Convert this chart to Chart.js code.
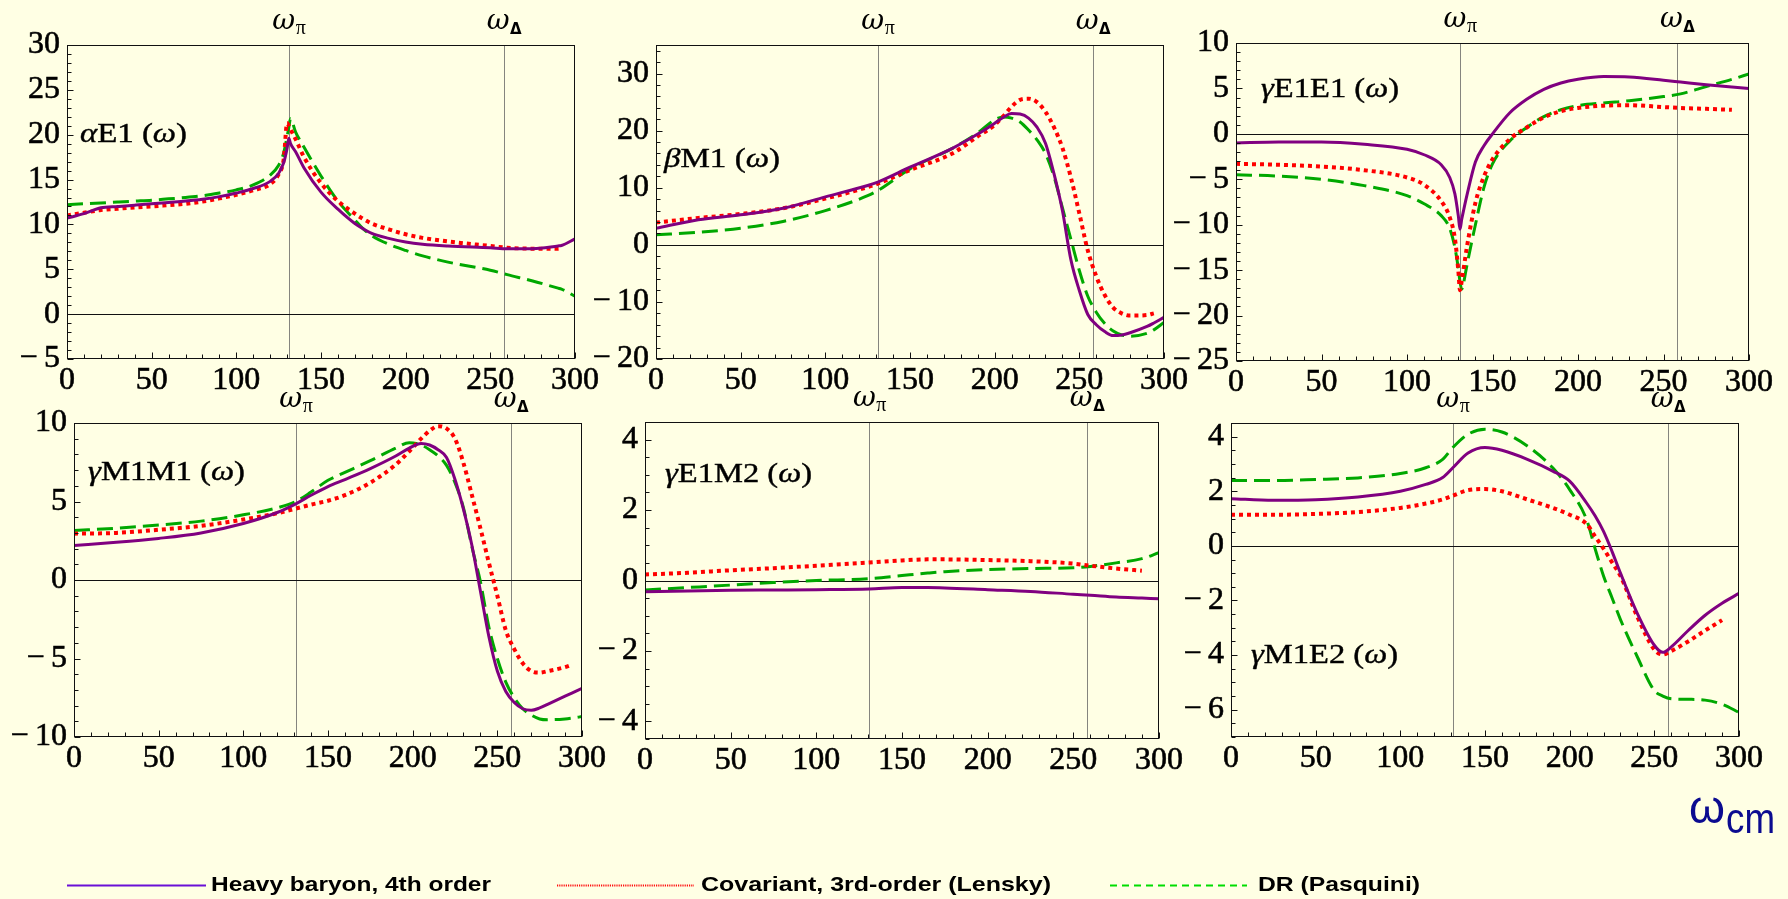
<!DOCTYPE html>
<html>
<head>
<meta charset="utf-8">
<script src="https://cdn.jsdelivr.net/npm/chart.js@4.4.1/dist/chart.umd.min.js"></script>
<style>
  html, body { margin: 0; padding: 0; background: #FFFFE4; }
  body { width: 1788px; height: 899px; position: relative; overflow: hidden; }
  canvas.panel { position: absolute; }
  svg.overlay { position: absolute; left: 0; top: 0; }
</style>
</head>
<body>
<svg class="overlay" width="1788" height="899" id="overlay"></svg>
<script>
// ---- shared axis values ----
const X_TICKS = [0, 50, 100, 150, 200, 250, 300];
const X_MARKS = [131, 258];           // pion-production threshold and Delta position
const X_MARK_SUBS = ['\u03C0', '\u0394'];
const SERIES_NAMES = ['Heavy baryon, 4th order', 'Covariant, 3rd-order (Lensky)', 'DR (Pasquini)'];

// ---- alpha_E1 ----
const wAlpha   = [0,10,20,30,40,50,60,70,80,90,100,110,120,125,128,130,131,132,135,140,150,160,170,175,180,190,200,210,225,250,260,275,290,292,300];
const alphaHB  = [10.7,11.2,11.85,12.0,12.15,12.3,12.45,12.6,12.8,13.1,13.5,14.0,14.8,15.7,16.9,18.5,19.6,19.0,18.1,16.3,13.6,11.7,10.1,9.5,9.0,8.45,8.05,7.8,7.6,7.4,7.3,7.3,7.6,7.65,8.4];
const alphaCov = [11.0,11.3,11.6,11.75,11.9,12.0,12.15,12.3,12.55,12.9,13.3,13.8,14.5,15.6,17.3,21.3,21.0,20.6,19.5,17.5,14.6,12.6,11.2,10.6,10.1,9.45,8.9,8.5,8.1,7.6,7.4,7.3,7.3,7.35,null];
const alphaDR  = [12.2,12.3,12.4,12.5,12.6,12.7,12.85,13.0,13.2,13.5,13.85,14.4,15.5,16.6,18.0,19.8,20.8,21.8,20.3,18.6,15.4,12.6,10.5,9.5,8.75,7.8,7.1,6.5,5.8,4.9,4.4,3.7,2.9,2.8,2.0];
const yTicksAlpha = [-5,0,5,10,15,20,25,30];

// ---- beta_M1 ----
const wBeta   = [0,25,50,75,100,125,131,150,175,190,200,205,210,215,220,225,230,235,240,245,250,255,260,265,270,275,280,290,294,300];
const betaHB  = [2.9,4.4,5.25,6.4,8.4,10.4,11.0,13.6,16.9,19.4,21.3,22.3,23.0,22.9,22.2,20.6,17.8,12.5,6.0,-2.6,-8.0,-12.2,-14.0,-15.2,-15.9,-15.8,-15.4,-14.3,-13.7,-12.7];
const betaCov = [3.9,4.7,5.4,6.4,8.1,10.1,10.7,13.1,16.0,19.0,21.0,22.5,24.2,25.4,25.6,25.0,23.3,20.6,17.0,11.8,5.5,-1.0,-5.5,-8.8,-11.0,-12.0,-12.4,-12.3,-12.0,null];
const betaDR  = [1.75,2.2,2.9,4.1,6.0,8.6,9.5,13.3,16.9,19.6,21.9,22.4,22.2,21.5,20.1,18.4,16.0,12.0,6.5,1.0,-4.5,-9.0,-11.8,-13.8,-15.1,-15.8,-16.0,-15.5,-14.9,-13.6];
const yTicksBeta = [-20,-10,0,10,20,30];

// ---- gamma_E1E1 ----
const wE1E1   = [0,25,50,75,100,110,120,125,128,130,131,132,133,135,140,145,150,160,170,180,190,200,215,230,250,260,275,290,300];
const e1e1HB  = [-1.0,-0.9,-0.9,-1.15,-1.7,-2.3,-3.4,-4.8,-6.6,-9.0,-10.5,-9.4,-8.5,-6.8,-3.1,-1.3,0.0,2.3,3.8,4.9,5.6,6.0,6.3,6.25,5.9,5.7,5.4,5.15,5.0];
const e1e1Cov = [-3.3,-3.4,-3.6,-4.0,-4.8,-5.6,-7.4,-9.2,-11.5,-15.0,-17.2,-16.2,-15.0,-12.5,-7.6,-4.7,-2.8,-0.6,0.7,1.8,2.5,2.85,3.1,3.15,2.95,2.85,2.75,2.65,null];
const e1e1DR  = [-4.5,-4.65,-5.0,-5.7,-6.8,-7.7,-9.0,-10.4,-12.5,-14.8,-16.3,-17.1,-16.5,-14.5,-10.0,-5.9,-3.3,-0.8,0.7,1.9,2.65,3.1,3.4,3.65,4.1,4.4,5.2,6.0,6.6];
const yTicksE1E1 = [-25,-20,-15,-10,-5,0,5,10];

// ---- gamma_M1M1 ----
const wM1M1   = [0,25,50,75,100,120,131,140,150,160,175,190,198,205,210,215,220,225,230,235,240,245,250,255,260,265,270,275,280,290,294,300];
const m1m1HB  = [2.2,2.4,2.65,3.0,3.6,4.3,4.85,5.4,5.95,6.4,7.1,7.9,8.4,8.7,8.6,8.3,7.8,6.4,4.5,2.2,-0.7,-3.6,-5.8,-7.1,-7.8,-8.2,-8.3,-8.15,-7.9,-7.4,-7.2,-6.9];
const m1m1Cov = [2.95,3.0,3.2,3.45,3.85,4.25,4.55,4.8,5.05,5.4,6.2,7.35,8.2,9.0,9.5,9.8,9.65,9.0,7.45,5.4,3.3,1.1,-1.0,-3.2,-4.4,-5.3,-5.8,-5.9,-5.8,-5.55,-5.4,null];
const m1m1DR  = [3.15,3.3,3.5,3.75,4.15,4.6,5.0,5.6,6.35,6.85,7.6,8.4,8.75,8.6,8.3,7.9,7.3,6.2,4.6,2.1,-0.1,-3.0,-5.0,-6.5,-7.5,-8.2,-8.6,-8.85,-8.9,-8.85,-8.8,-8.7];
const yTicksM1M1 = [-10,-5,0,5,10];

// ---- gamma_E1M2 ----
const wE1M2   = [0,25,50,75,100,131,150,165,175,200,225,250,260,275,290,300];
const e1m2HB  = [-0.32,-0.30,-0.28,-0.27,-0.26,-0.24,-0.2,-0.2,-0.21,-0.26,-0.31,-0.39,-0.42,-0.47,-0.5,-0.52];
const e1m2Cov = [0.17,0.22,0.29,0.35,0.42,0.51,0.57,0.6,0.6,0.58,0.55,0.48,0.42,0.34,0.28,null];
const e1m2DR  = [-0.27,-0.2,-0.13,-0.06,0.0,0.05,0.14,0.21,0.25,0.31,0.34,0.36,0.4,0.5,0.62,0.79];
const yTicksE1M2 = [-4,-2,0,2,4];

// ---- gamma_M1E2 ----
const wM1E2   = [0,25,50,75,100,115,125,131,140,150,160,175,190,200,210,215,220,225,230,240,250,255,260,270,280,290,300];
const m1e2HB  = [1.73,1.67,1.69,1.79,2.0,2.25,2.5,2.86,3.4,3.6,3.5,3.17,2.74,2.37,1.57,1.1,0.53,-0.2,-1.0,-2.48,-3.64,-3.9,-3.7,-3.1,-2.54,-2.1,-1.74];
const m1e2Cov = [1.14,1.14,1.17,1.24,1.39,1.55,1.7,1.84,2.04,2.08,2.0,1.7,1.39,1.14,0.8,0.35,-0.1,-0.6,-1.1,-2.6,-3.8,-3.98,-3.85,-3.5,-3.1,-2.72,null];
const m1e2DR  = [2.39,2.39,2.43,2.49,2.65,2.86,3.17,3.6,4.09,4.27,4.17,3.66,2.86,2.06,0.96,-0.1,-1.1,-1.9,-2.7,-4.07,-5.3,-5.5,-5.6,-5.62,-5.65,-5.8,-6.1];
const yTicksM1E2 = [-6,-4,-2,0,2,4];

// ---- drawing helpers ----
const SERIF = 'Liberation Serif';
const fmt = v => (v < 0 ? '\u2212\u2009' + Math.abs(v) : String(v));
const pts = (xs, ys) => xs.map((x, i) => ({ x, y: ys[i] }));

// run = [text, italic?]; the whole label is fitted to a given width
function drawRuns(ctx, runs, x, y, size, width) {
  const fonts = runs.map(([t, it]) => (it ? 'italic ' : '') + size + 'px "' + SERIF + '"');
  let total = 0;
  runs.forEach(([t], i) => { ctx.font = fonts[i]; total += ctx.measureText(t).width; });
  ctx.save();
  ctx.translate(x, y);
  ctx.scale(width / total, 1);
  ctx.lineWidth = 0.4;
  ctx.strokeStyle = '#000';
  let cx = 0;
  runs.forEach(([t], i) => {
    ctx.font = fonts[i];
    ctx.fillText(t, cx, 0);
    ctx.strokeText(t, cx, 0);
    cx += ctx.measureText(t).width;
  });
  ctx.restore();
}

const framePlugin = {
  id: 'frame',
  beforeDatasetsDraw(chart, args, o) {
    const { ctx, chartArea: a, scales: { x, y } } = chart;
    ctx.save();
    ctx.lineWidth = 1;
    ctx.strokeStyle = '#85857e';
    X_MARKS.forEach(v => {
      const px = Math.round(x.getPixelForValue(v)) + 0.5;
      ctx.beginPath(); ctx.moveTo(px, a.top); ctx.lineTo(px, a.bottom); ctx.stroke();
    });
    ctx.strokeStyle = '#111';
    const py = Math.round(y.getPixelForValue(0)) + 0.5;
    ctx.beginPath(); ctx.moveTo(a.left, py); ctx.lineTo(a.right, py); ctx.stroke();
    ctx.restore();
  },
  afterDraw(chart, args, o) {
    const { ctx, chartArea: a, scales: { x, y } } = chart;
    ctx.save();
    ctx.strokeStyle = '#111';
    ctx.lineWidth = 1;
    const L = Math.round(a.left) + 0.5, R = Math.round(a.right) - 0.5;
    const T = Math.round(a.top) + 0.5, B = Math.round(a.bottom) - 0.5;
    ctx.strokeRect(L, T, R - L, B - T);
    // inward ticks along bottom and left edges
    ctx.beginPath();
    for (let v = x.min; v <= x.max + 1e-9; v += o.xMinor) {
      const px = Math.round(x.getPixelForValue(v)) + 0.5;
      const len = X_TICKS.includes(Math.round(v)) ? 6 : 4;
      ctx.moveTo(px, B); ctx.lineTo(px, B - len);
    }
    const y0 = Math.ceil(y.min / o.yMinor - 1e-9) * o.yMinor;
    for (let v = y0; v <= y.max + 1e-9; v += o.yMinor) {
      const py = Math.round(y.getPixelForValue(v)) + 0.5;
      const major = o.yTicks.some(t => Math.abs(t - v) < 1e-6);
      ctx.moveTo(L, py); ctx.lineTo(L + (major ? 6 : 4), py);
    }
    ctx.stroke();
    // threshold labels above the frame
    ctx.fillStyle = '#000';
    ctx.textBaseline = 'alphabetic';
    ctx.textAlign = 'left';
    const omegaFont = 'italic 28px "DejaVu Serif"';
    X_MARKS.forEach((v, i) => {
      const px = x.getPixelForValue(v);
      ctx.font = omegaFont;
      const w1 = ctx.measureText('\u03C9').width;
      const subFont = i === 0 ? '20px "Liberation Serif"' : 'bold 15px "DejaVu Sans"';
      ctx.font = subFont;
      const w2 = ctx.measureText(X_MARK_SUBS[i]).width;
      const sx = px - (w1 + w2) / 2;
      const by = a.top - 16.5;
      ctx.font = omegaFont;
      ctx.fillText('\u03C9', sx, by);
      ctx.font = subFont;
      ctx.fillText(X_MARK_SUBS[i], sx + w1 + 0.5, by + 5);
    });
    // panel name
    drawRuns(ctx, o.name, a.left + o.nameAt[0], a.top + o.nameAt[1], 27, o.nameAt[2]);
    ctx.restore();
  }
};

const LINE_STYLES = [
  { borderColor: '#800080', borderWidth: 3, borderDash: [] },
  { borderColor: '#FF0000', borderWidth: 4, borderDash: [4, 4] },
  { borderColor: '#00A800', borderWidth: 3, borderDash: [16, 7] }
];

const PAD_L = 70, PAD_T = 45, PAD_R = 34, PAD_B = 40;

function makePanel(p) {
  const [L, T, R, B] = p.area;
  const cv = document.createElement('canvas');
  cv.className = 'panel';
  const W = (R - L) + PAD_L + PAD_R, H = (B - T) + PAD_T + PAD_B;
  cv.width = W; cv.height = H;
  cv.style.left = (L - PAD_L) + 'px';
  cv.style.top = (T - PAD_T) + 'px';
  cv.style.width = W + 'px'; cv.style.height = H + 'px';
  document.body.appendChild(cv);

  const datasets = p.series.map((ys, i) => Object.assign({
    label: SERIES_NAMES[i],
    data: pts(p.x, ys),
    pointRadius: 0,
    fill: false,
    spanGaps: false,
    cubicInterpolationMode: 'monotone',
    borderCapStyle: 'butt',
    borderJoinStyle: 'round'
  }, LINE_STYLES[i]));

  const tick = (pad) => ({
    font: { family: SERIF, size: 32 }, color: '#000', padding: pad, maxRotation: 0, autoSkip: false,
    textStrokeColor: '#000', textStrokeWidth: 0.6, callback: v => fmt(v)
  });
  return new Chart(cv, {
    type: 'line',
    data: { datasets },
    options: {
      responsive: false,
      animation: false,
      devicePixelRatio: 1,
      events: [],
      layout: { padding: { left: 0, top: PAD_T, right: PAD_R, bottom: 0 } },
      plugins: {
        legend: { display: false },
        tooltip: { enabled: false },
        frame: { xMinor: 10, yMinor: p.yMinor, yTicks: p.yTicks, name: p.name, nameAt: p.nameAt }
      },
      scales: {
        x: {
          type: 'linear', min: 0, max: 300,
          afterFit: s => { s.height = PAD_B; },
          afterBuildTicks: s => { s.ticks = X_TICKS.map(v => ({ value: v })); },
          grid: { display: false, drawTicks: false },
          border: { display: false },
          ticks: tick(2)
        },
        y: {
          type: 'linear', min: p.yRange[0], max: p.yRange[1],
          afterFit: s => { s.width = PAD_L; },
          afterBuildTicks: s => { s.ticks = p.yTicks.map(v => ({ value: v })); },
          grid: { display: false, drawTicks: false },
          border: { display: false },
          ticks: tick(7)
        }
      }
    },
    plugins: [framePlugin]
  });
}

const PANELS = [
  { area: [67, 45, 575, 359], x: wAlpha, series: [alphaHB, alphaCov, alphaDR], yRange: [-5, 30], yTicks: yTicksAlpha, yMinor: 1,
    name: [['\u03B1', 1], ['E1 (', 0], ['\u03C9', 1], [')', 0]], nameAt: [13, 97, 107] },
  { area: [656, 45, 1164, 359], x: wBeta, series: [betaHB, betaCov, betaDR], yRange: [-20, 35], yTicks: yTicksBeta, yMinor: 2,
    name: [['\u03B2', 1], ['M1 (', 0], ['\u03C9', 1], [')', 0]], nameAt: [8, 122, 116] },
  { area: [1236, 43, 1749, 361], x: wE1E1, series: [e1e1HB, e1e1Cov, e1e1DR], yRange: [-25, 10], yTicks: yTicksE1E1, yMinor: 1,
    name: [['\u03B3', 1], ['E1E1 (', 0], ['\u03C9', 1], [')', 0]], nameAt: [25, 54, 138] },
  { area: [74, 423, 582, 737], x: wM1M1, series: [m1m1HB, m1m1Cov, m1m1DR], yRange: [-10, 10], yTicks: yTicksM1M1, yMinor: 1,
    name: [['\u03B3', 1], ['M1M1 (', 0], ['\u03C9', 1], [')', 0]], nameAt: [14, 57, 157] },
  { area: [645, 422, 1159, 739], x: wE1M2, series: [e1m2HB, e1m2Cov, e1m2DR], yRange: [-4.5, 4.5], yTicks: yTicksE1M2, yMinor: 0.5,
    name: [['\u03B3', 1], ['E1M2 (', 0], ['\u03C9', 1], [')', 0]], nameAt: [20, 60, 147] },
  { area: [1231, 423, 1739, 737], x: wM1E2, series: [m1e2HB, m1e2Cov, m1e2DR], yRange: [-7, 4.5], yTicks: yTicksM1E2, yMinor: 0.5,
    name: [['\u03B3', 1], ['M1E2 (', 0], ['\u03C9', 1], [')', 0]], nameAt: [20, 240, 147] }
];

PANELS.forEach(makePanel);

// ---- shared legend and energy-axis caption ----
const NS = 'http://www.w3.org/2000/svg';
const svg = document.getElementById('overlay');
document.body.appendChild(svg);
function el(tag, attrs, text) {
  const e = document.createElementNS(NS, tag);
  Object.entries(attrs).forEach(([k, v]) => e.setAttribute(k, v));
  if (text) e.textContent = text;
  svg.appendChild(e);
  return e;
}
const LEGEND = [
  { x1: 67, x2: 206, color: '#6A10D6', dash: 'none', tx: 211, tw: 280 },
  { x1: 557, x2: 694, color: '#FF1010', dash: '1.2 1', tx: 701, tw: 350 },
  { x1: 1110, x2: 1247, color: '#00DD00', dash: '7 5', tx: 1258, tw: 162 }
];
LEGEND.forEach((g, i) => {
  el('line', { x1: g.x1, x2: g.x2, y1: 885.5, y2: 885.5, stroke: g.color, 'stroke-width': 2, 'stroke-dasharray': g.dash });
  el('text', { x: g.tx, y: 891, 'font-family': 'Liberation Sans', 'font-size': 21, 'font-weight': 'bold', fill: '#000',
    textLength: g.tw, lengthAdjust: 'spacingAndGlyphs' }, SERIES_NAMES[i]);
});
el('text', { x: 1689, y: 823, 'font-family': 'Liberation Sans', 'font-size': 47, fill: '#0B0B90',
  textLength: 36, lengthAdjust: 'spacingAndGlyphs' }, '\u03C9');
el('text', { x: 1726, y: 833, 'font-family': 'Liberation Sans', 'font-size': 42, fill: '#0B0B90',
  textLength: 49, lengthAdjust: 'spacingAndGlyphs' }, 'cm');
</script>
</body>
</html>
